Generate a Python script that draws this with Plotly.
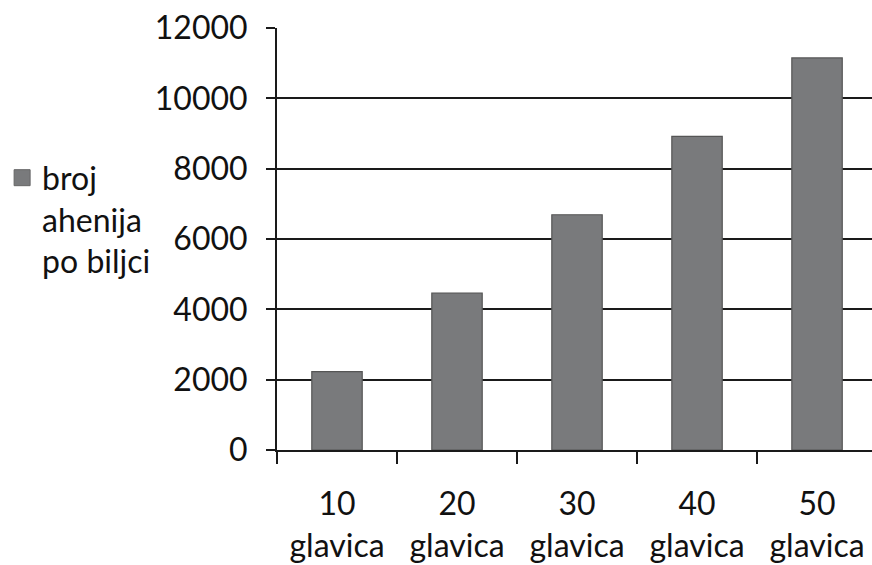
import plotly.graph_objects as go

categories = ["10<br>glavica", "20<br>glavica", "30<br>glavica", "40<br>glavica", "50<br>glavica"]
values = [2230, 4460, 6690, 8920, 11150]
series_name = "broj<br>ahenija<br>po biljci"
y_ticks = [0, 2000, 4000, 6000, 8000, 10000, 12000]
y_tick_text = ["0", "2000", "4000", "6000", "8000", "10000", "12000"]

FONT = "Lato, 'Open Sans', sans-serif"
TXT = "#111111"
BAR = "#797a7c"

fig = go.Figure()
fig.add_trace(go.Bar(
    x=categories, y=values, name=series_name,
    marker=dict(color=BAR, line=dict(color="#555555", width=1.2)),
    width=0.42, showlegend=False,
))
# legend entry (larger square symbol)
fig.add_trace(go.Scatter(
    x=[None], y=[None], mode="markers", name=series_name,
    marker=dict(symbol="square", size=16, color=BAR, line=dict(color="#666666", width=1)),
    showlegend=True,
))

fig.update_layout(
    width=872, height=565,
    margin=dict(l=277, r=0, t=28, b=115, autoexpand=False),
    paper_bgcolor="white", plot_bgcolor="white",
    font=dict(family=FONT, size=32, color=TXT),
    showlegend=True,
    legend=dict(x=-0.462, xanchor="left", y=0.71, yanchor="top",
                valign="top", font=dict(size=32, color=TXT),
                bgcolor="rgba(0,0,0,0)", itemwidth=30, itemsizing="trace"),
    xaxis=dict(
        type="category", range=[-0.5, 4.458], automargin=False,
        showline=True, linecolor="#1a1a1a", linewidth=2,
        ticks="outside", tickson="boundaries", ticklen=12, tickwidth=2, tickcolor="#1a1a1a",
        showgrid=False, ticklabelstandoff=25,
        tickfont=dict(family=FONT, size=32, color=TXT),
    ),
    yaxis=dict(
        range=[0, 12000], tickvals=y_ticks, ticktext=y_tick_text, automargin=False,
        showline=True, linecolor="#1a1a1a", linewidth=2,
        ticks="outside", ticklen=9, tickwidth=2, tickcolor="#1a1a1a",
        showgrid=True, gridcolor="#1a1a1a", gridwidth=2,
        zeroline=False, ticklabelstandoff=12,
        tickfont=dict(family=FONT, size=32, color=TXT),
    ),
)

fig.write_html("out.html", config={"displayModeBar": False},
               post_script="document.body.style.margin='0';")
